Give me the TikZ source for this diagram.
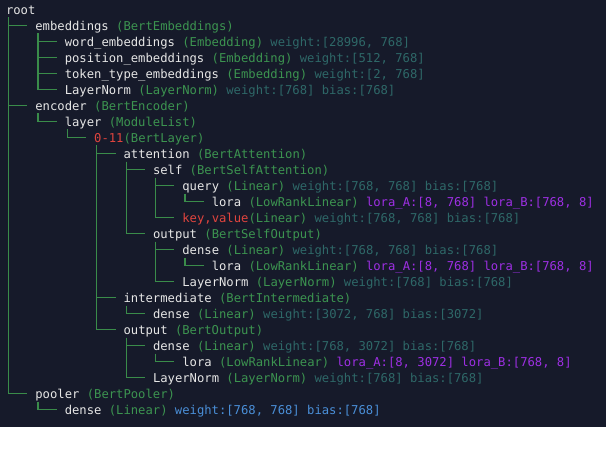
\documentclass[tikz,border=0pt]{standalone}
\usepackage{fontspec}
\setmonofont{DejaVu Sans Mono}
\definecolor{bgc}{HTML}{161A2A}
\definecolor{namec}{HTML}{E6E6E6}
\definecolor{typec}{HTML}{3C9450}
\definecolor{metac}{HTML}{2E6868}
\definecolor{lorac}{HTML}{9D2FE3}
\definecolor{redc}{HTML}{E0443E}
\definecolor{bluec}{HTML}{4A8FD8}
\definecolor{linec}{HTML}{3A8C4A}
\newcommand\tnName[1]{\textcolor{namec}{#1}}
\newcommand\tnType[1]{\textcolor{typec}{#1}}
\newcommand\tnMeta[1]{\textcolor{metac}{#1}}
\newcommand\tnLora[1]{\textcolor{lorac}{#1}}
\newcommand\tnRed[1]{\textcolor{redc}{#1}}
\newcommand\tnBlue[1]{\textcolor{bluec}{#1}}
\newcommand\treebranch[2]{\draw[treeline] ([xshift=2.5pt,yshift=-3pt]#1.base west) |- ([xshift=-8pt,yshift=5pt]#2.base west);}
\begin{document}
\begin{tikzpicture}[x=1pt,y=-1pt,
  entry/.style={anchor=base west,inner sep=0pt,outer sep=0pt,font=\ttfamily\fontsize{12.2}{16}\selectfont,text=namec},
  treeline/.style={draw=linec,line width=1.2pt}]
\fill[white] (0,0) rectangle (606,460);
\useasboundingbox (0,0) rectangle (606,460);
\fill[bgc] (0,0) rectangle (606,427);
\node[entry] (n0) at (6,14.5) {\tnName{root}};
\node[entry] (n1) at (35.4,30.5) {\tnName{embeddings} \tnType{(BertEmbeddings)}};
\node[entry] (n2) at (64.8,46.5) {\tnName{word\_embeddings} \tnType{(Embedding)} \tnMeta{weight:[28996, 768]}};
\node[entry] (n3) at (64.8,62.5) {\tnName{position\_embeddings} \tnType{(Embedding)} \tnMeta{weight:[512, 768]}};
\node[entry] (n4) at (64.8,78.5) {\tnName{token\_type\_embeddings} \tnType{(Embedding)} \tnMeta{weight:[2, 768]}};
\node[entry] (n5) at (64.8,94.5) {\tnName{LayerNorm} \tnType{(LayerNorm)} \tnMeta{weight:[768] bias:[768]}};
\node[entry] (n6) at (35.4,110.5) {\tnName{encoder} \tnType{(BertEncoder)}};
\node[entry] (n7) at (64.8,126.5) {\tnName{layer} \tnType{(ModuleList)}};
\node[entry] (n8) at (94.2,142.5) {\tnRed{0-11}\tnType{(BertLayer)}};
\node[entry] (n9) at (123.6,158.5) {\tnName{attention} \tnType{(BertAttention)}};
\node[entry] (n10) at (153,174.5) {\tnName{self} \tnType{(BertSelfAttention)}};
\node[entry] (n11) at (182.4,190.5) {\tnName{query} \tnType{(Linear)} \tnMeta{weight:[768, 768] bias:[768]}};
\node[entry] (n12) at (211.8,206.5) {\tnName{lora} \tnType{(LowRankLinear)} \tnLora{lora\_A:[8, 768] lora\_B:[768, 8]}};
\node[entry] (n13) at (182.4,222.5) {\tnRed{key,value}\tnType{(Linear)} \tnMeta{weight:[768, 768] bias:[768]}};
\node[entry] (n14) at (153,238.5) {\tnName{output} \tnType{(BertSelfOutput)}};
\node[entry] (n15) at (182.4,254.5) {\tnName{dense} \tnType{(Linear)} \tnMeta{weight:[768, 768] bias:[768]}};
\node[entry] (n16) at (211.8,270.5) {\tnName{lora} \tnType{(LowRankLinear)} \tnLora{lora\_A:[8, 768] lora\_B:[768, 8]}};
\node[entry] (n17) at (182.4,286.5) {\tnName{LayerNorm} \tnType{(LayerNorm)} \tnMeta{weight:[768] bias:[768]}};
\node[entry] (n18) at (123.6,302.5) {\tnName{intermediate} \tnType{(BertIntermediate)}};
\node[entry] (n19) at (153,318.5) {\tnName{dense} \tnType{(Linear)} \tnMeta{weight:[3072, 768] bias:[3072]}};
\node[entry] (n20) at (123.6,334.5) {\tnName{output} \tnType{(BertOutput)}};
\node[entry] (n21) at (153,350.5) {\tnName{dense} \tnType{(Linear)} \tnMeta{weight:[768, 3072] bias:[768]}};
\node[entry] (n22) at (182.4,366.5) {\tnName{lora} \tnType{(LowRankLinear)} \tnLora{lora\_A:[8, 3072] lora\_B:[768, 8]}};
\node[entry] (n23) at (153,382.5) {\tnName{LayerNorm} \tnType{(LayerNorm)} \tnMeta{weight:[768] bias:[768]}};
\node[entry] (n24) at (35.4,398.5) {\tnName{pooler} \tnType{(BertPooler)}};
\node[entry] (n25) at (64.8,414.5) {\tnName{dense} \tnType{(Linear)} \tnBlue{weight:[768, 768] bias:[768]}};
\treebranch{n0}{n1}\treebranch{n0}{n6}\treebranch{n0}{n24}
\treebranch{n1}{n2}\treebranch{n1}{n3}\treebranch{n1}{n4}\treebranch{n1}{n5}
\treebranch{n6}{n7}\treebranch{n7}{n8}
\treebranch{n8}{n9}\treebranch{n8}{n18}\treebranch{n8}{n20}
\treebranch{n9}{n10}\treebranch{n9}{n14}
\treebranch{n10}{n11}\treebranch{n10}{n13}\treebranch{n11}{n12}
\treebranch{n14}{n15}\treebranch{n14}{n17}\treebranch{n15}{n16}
\treebranch{n18}{n19}
\treebranch{n20}{n21}\treebranch{n20}{n23}\treebranch{n21}{n22}
\treebranch{n24}{n25}
\end{tikzpicture}
\end{document}
